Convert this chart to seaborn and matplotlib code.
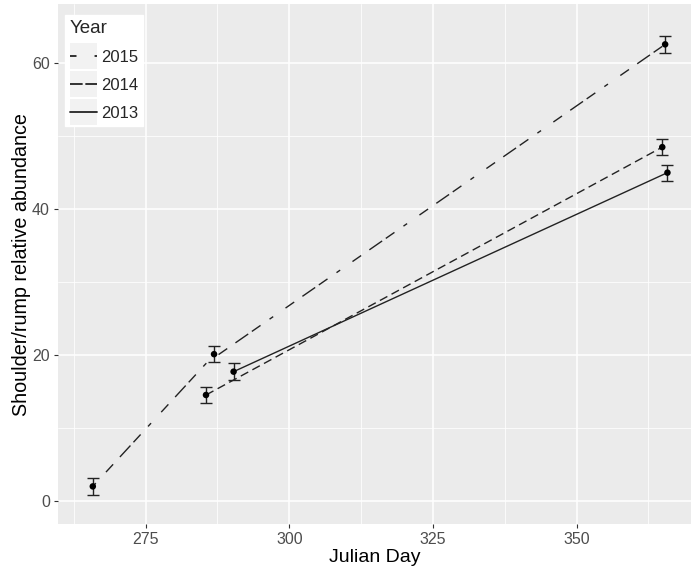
import matplotlib.pyplot as plt
import seaborn as sns
import pandas as pd
from matplotlib.lines import Line2D
from matplotlib.patches import Rectangle
from matplotlib.legend_handler import HandlerLine2D

# mean abundance (+/- error) per sampling day
years = ["2015", "2014", "2013"]
day_2015 = [265.8, 286.9, 365.4]
abund_2015 = [1.96, 20.1, 62.6]
err_2015 = [1.15, 1.1, 1.15]
day_2014 = [285.5, 364.9]
abund_2014 = [14.5, 48.5]
err_2014 = [1.12, 1.1]
day_2013 = [290.3, 365.8]
abund_2013 = [17.7, 45.0]
err_2013 = [1.15, 1.1]

# the 2015 line bends a little below its middle point
line_day_2015 = [265.8, 285.6, 365.4]
line_abund_2015 = [1.96, 18.9, 62.6]

sns.set_theme(style="darkgrid")
plt.rcParams["font.family"] = ["Liberation Sans", "DejaVu Sans"]

points = pd.concat([
    pd.DataFrame({"day": day_2015, "abund": abund_2015, "err": err_2015, "Year": "2015"}),
    pd.DataFrame({"day": day_2014, "abund": abund_2014, "err": err_2014, "Year": "2014"}),
    pd.DataFrame({"day": day_2013, "abund": abund_2013, "err": err_2013, "Year": "2013"}),
])
lines = pd.concat([
    pd.DataFrame({"day": line_day_2015, "abund": line_abund_2015, "Year": "2015"}),
    pd.DataFrame({"day": day_2014, "abund": abund_2014, "Year": "2014"}),
    pd.DataFrame({"day": day_2013, "abund": abund_2013, "Year": "2013"}),
])

dash_styles = {
    "2015": (3.2, 10.8, 7.6, 7.2, 11.2, 3.2, 7.6, 7.9),
    "2014": (6.1, 3.4),
    "2013": "",
}

fig = plt.figure(figsize=(6.91, 5.7), dpi=100)
ax = fig.add_axes([0.0844, 0.0807, 0.9156, 0.9118])
ax.set_facecolor("#EBEBEB")

sns.lineplot(data=lines, x="day", y="abund", style="Year", style_order=years,
             dashes=dash_styles, color="#222222", linewidth=1.0,
             estimator=None, sort=False, legend=False, ax=ax)
ax.errorbar(points["day"], points["abund"], yerr=points["err"], fmt="none",
            ecolor="#222222", elinewidth=1.0, capsize=4.2, capthick=1.0)
sns.scatterplot(data=points, x="day", y="abund", color="black", s=22,
                edgecolor="none", legend=False, ax=ax, zorder=5)

ax.set_xlim(259.8, 369.9)
ax.set_ylim(-3.2, 68.1)
ax.set_xticks([275, 300, 325, 350])
ax.set_yticks([0, 20, 40, 60])
ax.set_xticks([262.5, 287.5, 312.5, 337.5, 362.5], minor=True)
ax.set_yticks([10, 30, 50], minor=True)
ax.grid(which="major", color="white", linewidth=1.1)
ax.grid(which="minor", color="white", linewidth=0.55)
ax.set_axisbelow(True)
for s in ax.spines.values():
    s.set_visible(False)
ax.tick_params(which="major", length=3, width=0.8, color="#333333",
               labelsize=11.5, labelcolor="#4D4D4D", pad=3)
ax.tick_params(which="minor", length=0)
ax.tick_params(axis="x", which="major", bottom=True)
ax.tick_params(axis="y", which="major", left=True)
ax.set_xlabel("Julian Day", fontsize=14, color="black", labelpad=1)
ax.set_ylabel("Shoulder/rump relative abundance", fontsize=14.2, color="black", labelpad=1)


class KeyHandler(HandlerLine2D):
    def create_artists(self, legend, orig_handle, xdescent, ydescent,
                       width, height, fontsize, trans):
        arts = super().create_artists(legend, orig_handle, xdescent, ydescent,
                                      width, height, fontsize, trans)
        bg = Rectangle((-xdescent, -ydescent - 0.6 * height), width, height * 2.2,
                       facecolor="#F2F2F2", edgecolor="none", transform=trans)
        return [bg] + arts


handles = [Line2D([], [], color="#222222", linewidth=1.3,
                  linestyle="-" if not dash_styles[y] else "--")
           for y in years]
handles[0].set_dashes((3.6, 10, 1.4, 10))
handles[1].set_dashes((7, 1.5))
leg = ax.legend(handles, years, title="Year", loc="upper left",
                bbox_to_anchor=(0.0106, 0.9794), borderaxespad=0,
                frameon=True, fancybox=False,
                facecolor="white", edgecolor="white", framealpha=1,
                fontsize=12, title_fontsize=13.5, handlelength=1.6,
                handletextpad=0.25, labelspacing=0.78, borderpad=0.3,
                alignment="left", handler_map={Line2D: KeyHandler()})

fig.savefig("out.png", dpi=100)
